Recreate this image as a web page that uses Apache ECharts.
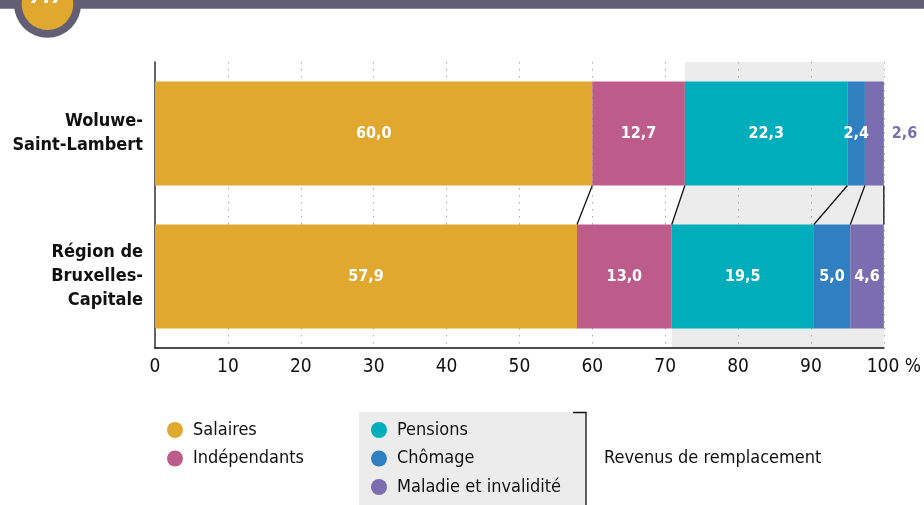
<!DOCTYPE html>
<html>
<head>
<meta charset="utf-8">
<script src="https://cdn.jsdelivr.net/npm/echarts@6/dist/echarts.min.js"></script>
<style>
  html, body { margin: 0; padding: 0; background: #fff; }
  #chart { width: 924px; height: 505px; }
</style>
</head>
<body>
<div id="chart"></div>
<script>
// Income composition (%) by origin
const categories = ['Woluwe-\nSaint-Lambert', 'Région de\nBruxelles-\nCapitale'];
const seriesNames = ['Salaires', 'Indépendants', 'Pensions', 'Chômage', 'Maladie et invalidité'];
const salaires     = [60.0, 57.9];
const independants = [12.7, 13.0];
const pensions     = [22.3, 19.5];
const chomage      = [2.4, 5.0];
const maladie      = [2.6, 4.6];
const xTicks = [0, 10, 20, 30, 40, 50, 60, 70, 80, 90, 100];

const colors = ['#e0a82e', '#bd5b8a', '#00adbb', '#2f7fc1', '#7a6db0'];
const FONT = '"Liberation Sans Narrow", "DejaVu Sans Condensed", sans-serif';
const BAR_RATIO = 0.727;

const values = [salaires, independants, pensions, chomage, maladie];

// cumulative boundaries per category
function cumulative(ci) {
  let s = 0;
  return values.map(v => (s += v[ci], +s.toFixed(1)));
}
const cumTop = cumulative(0);
const cumBottom = cumulative(1);
// start of "revenus de remplacement" (after salaires + indépendants)
const replStart = [cumTop[1], cumBottom[1]];

const fmt = v => v.toFixed(1).replace('.', ',');

const barSeries = seriesNames.map((name, i) => ({
  name,
  type: 'bar',
  stack: 'total',
  barWidth: (BAR_RATIO * 100) + '%',
  itemStyle: { color: colors[i] },
  label: {
    show: true,
    position: 'inside',
    color: '#fff',
    fontFamily: FONT,
    fontWeight: 'bold',
    fontSize: 16,
    formatter: p => fmt(p.value)
  },
  data: values[i].map((v, ci) => {
    if (i === values.length - 1 && ci === 0) {
      return { value: v, label: { position: 'right', distance: 8, color: colors[i] } };
    }
    return v;
  }),
  z: 2
}));

// grey band behind the replacement-income segments
const shadeSeries = {
  type: 'custom',
  silent: true,
  z: -1,
  data: [[replStart[0], replStart[1]]],
  renderItem(params, api) {
    const cs = params.coordSys;
    const band = api.size([0, 1])[1];
    const half = band * BAR_RATIO / 2;
    const yTop = api.coord([0, 0])[1];
    const yBot = api.coord([0, 1])[1];
    const xa = api.coord([api.value(0), 0])[0];
    const xb = api.coord([api.value(1), 1])[0];
    const xr = api.coord([100, 0])[0];
    return {
      type: 'polygon',
      shape: {
        points: [
          [xa, cs.y], [xa, yTop + half], [xb, yBot - half],
          [xb, cs.y + cs.height], [xr, cs.y + cs.height], [xr, cs.y]
        ]
      },
      style: { fill: '#ececec' }
    };
  }
};

// connector lines linking segment boundaries of the two bars
const linkSeries = {
  type: 'custom',
  silent: true,
  z: 3,
  data: cumTop.map((t, i) => [t, cumBottom[i]]),
  renderItem(params, api) {
    const band = api.size([0, 1])[1];
    const half = band * BAR_RATIO / 2;
    const p1 = api.coord([api.value(0), 0]);
    const p2 = api.coord([api.value(1), 1]);
    return {
      type: 'line',
      shape: { x1: p1[0], y1: p1[1] + half, x2: p2[0], y2: p2[1] - half },
      style: { stroke: '#111', lineWidth: 1.3 }
    };
  }
};

const legendBase = {
  orient: 'vertical',
  top: 421,
  padding: 0,
  height: 84,
  icon: 'circle',
  itemWidth: 16,
  itemHeight: 16,
  itemGap: 10.5,
  selectedMode: false,
  textStyle: { fontFamily: FONT, fontSize: 18, color: '#111', lineHeight: 16, height: 16, padding: [0, 0, 0, 5] }
};

const chart = echarts.init(document.getElementById('chart'), null, { renderer: 'canvas' });

chart.setOption({
  animation: false,
  backgroundColor: '#fff',
  grid: { left: 155, right: 39, top: 62, bottom: 157, containLabel: false },
  xAxis: {
    type: 'value',
    min: 0,
    max: 100,
    interval: 10,
    axisLine: { show: true, lineStyle: { color: '#111', width: 1.5 } },
    axisTick: { show: false },
    splitLine: { show: true, lineStyle: { color: '#aaa', width: 1, type: [1.5, 5.5] } },
    axisLabel: {
      fontFamily: FONT,
      fontSize: 19,
      color: '#111',
      margin: 10,
      formatter: v => (v === 100 ? '{p|' + xTicks[xTicks.length - 1] + ' %}' : String(v)),
      rich: { p: { fontFamily: FONT, fontSize: 19, color: '#111', padding: [0, 0, 0, 20] } }
    }
  },
  yAxis: {
    type: 'category',
    inverse: true,
    data: categories,
    axisLine: { show: true, lineStyle: { color: '#333', width: 1.5 } },
    axisTick: { show: false },
    axisLabel: {
      fontFamily: FONT,
      fontWeight: 'bold',
      fontSize: 18,
      lineHeight: 24,
      color: '#111',
      margin: 12,
      align: 'right'
    }
  },
  legend: [
    Object.assign({}, legendBase, { data: seriesNames.slice(0, 2), left: 167 }),
    Object.assign({}, legendBase, { data: seriesNames.slice(2), left: 371 })
  ],
  graphic: [
    { type: 'rect', z: -10, silent: true, shape: { x: 359, y: 412, width: 227, height: 93 }, style: { fill: '#ececec' } },
    { type: 'polyline', silent: true, shape: { points: [[573, 412.5], [586, 412.5], [586, 505]] }, style: { stroke: '#111', lineWidth: 1.3, fill: null } },
    { type: 'text', silent: true, x: 604, y: 458, style: { text: 'Revenus de remplacement', fontFamily: FONT, fontSize: 18, fill: '#111', verticalAlign: 'middle' } },
    // header band with chapter badge
    { type: 'rect', silent: true, shape: { x: 0, y: 0, width: 924, height: 8.7 }, style: { fill: '#625f75' } },
    { type: 'circle', silent: true, shape: { cx: 47.5, cy: 4.2, r: 33.5 }, style: { fill: '#625f75' } },
    { type: 'circle', silent: true, shape: { cx: 47.5, cy: 4.2, r: 25.8 }, style: { fill: '#e0a82e' } },
    { type: 'text', silent: true, x: 47, y: 8, style: { text: '7.7', fontFamily: FONT, fontSize: 22, fontWeight: 'bold', fontStyle: 'italic', fill: '#fff', align: 'center', verticalAlign: 'bottom' } }
  ],
  series: [shadeSeries, ...barSeries, linkSeries]
});
</script>
</body>
</html>
